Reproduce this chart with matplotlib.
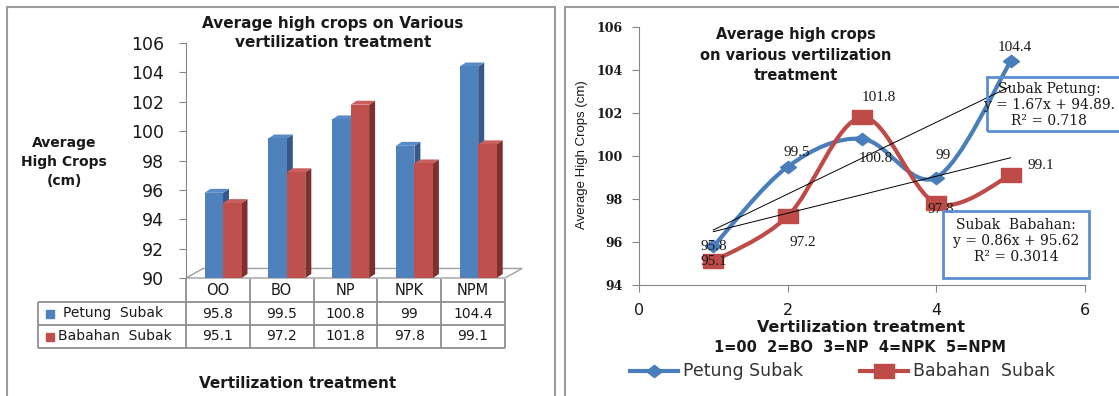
import numpy as np
import matplotlib
matplotlib.use("Agg")
import matplotlib.pyplot as plt
from matplotlib.patches import Polygon, Rectangle, PathPatch
from matplotlib.path import Path
from matplotlib.lines import Line2D

# ---------------- data ----------------
categories = ["OO", "BO", "NP", "NPK", "NPM"]
petung = [95.8, 99.5, 100.8, 99, 104.4]
babahan = [95.1, 97.2, 101.8, 97.8, 99.1]
treatment_codes = [1, 2, 3, 4, 5]
table_row_names = ["Petung  Subak", "Babahan  Subak"]
legend_names = ["Petung Subak", "Babahan  Subak"]
bar_yticks = [90, 92, 94, 96, 98, 100, 102, 104, 106]
line_yticks = [94, 96, 98, 100, 102, 104, 106]
line_xticks = [0, 2, 4, 6]
eq_petung = "Subak Petung:\ny = 1.67x + 94.89.\nR² = 0.718"
eq_babahan = "Subak  Babahan:\ny = 0.86x + 95.62\nR² = 0.3014"

# ---------------- style ----------------
BLUE = "#4F81BD"
BLUE_SIDE = "#36598A"
BLUE_TOP = "#5A8BC7"
RED = "#C0504D"
RED_SIDE = "#7E302E"
RED_TOP = "#C9605D"
LINE_BLUE = "#4A7EBB"
LINE_RED = "#BE4B48"
AXIS_GRAY = "#868686"
TXT = "#1a1a1a"

W, H = 1119, 396


def fx(px):
    return px / W


def fy(py):
    return 1 - py / H


fig = plt.figure(figsize=(W / 100, H / 100), dpi=100)

# panel borders
fig.add_artist(Rectangle((fx(7), fy(420)), fx(555 - 7), (420 - 7) / H,
                         transform=fig.transFigure, fill=False, ec="#9c9c9c", lw=1.5))
fig.add_artist(Rectangle((fx(565), fy(420)), fx(1140 - 565), (420 - 7) / H,
                         transform=fig.transFigure, fill=False, ec="#9c9c9c", lw=1.5))

# ================= LEFT: 3D-look clustered bar chart =================
axL = fig.add_axes([fx(186), fy(278), fx(505 - 186), (278 - 43) / H])
axL.set_xlim(0, 5)
axL.set_ylim(90, 106)
centers = np.arange(len(categories)) + 0.5
bw = 0.29
dx, dy = 0.094, 0.27
blue_left = centers - 0.21
red_left = centers + 0.08

# floor
floor_dx, floor_dy = 0.27, 0.65
axL.add_patch(Polygon([(0, 90), (5, 90), (5 + floor_dx, 90 + floor_dy), (floor_dx, 90 + floor_dy)],
                      closed=True, fc="white", ec="#a0a0a0", lw=1, clip_on=False, zorder=1))


def bar3d(ax, lefts, vals, front, side, topc, z):
    ax.bar(lefts, np.array(vals) - 90, bottom=90, width=bw, align="edge",
           color=front, zorder=z + 1, clip_on=False)
    for l, v in zip(lefts, vals):
        r = l + bw
        ax.add_patch(Polygon([(r, 90), (r + dx, 90 + dy), (r + dx, v + dy), (r, v)],
                             closed=True, fc=side, ec="none", zorder=z, clip_on=False))
        ax.add_patch(Polygon([(l, v), (l + dx, v + dy), (r + dx, v + dy), (r, v)],
                             closed=True, fc=topc, ec="none", zorder=z, clip_on=False))


bar3d(axL, blue_left, petung, BLUE, BLUE_SIDE, BLUE_TOP, 2)
bar3d(axL, red_left, babahan, RED, RED_SIDE, RED_TOP, 4)

for s in ["top", "right", "bottom"]:
    axL.spines[s].set_visible(False)
axL.spines["left"].set_color(AXIS_GRAY)
axL.set_xticks([])
axL.set_yticks(bar_yticks)
axL.tick_params(axis="y", direction="out", length=5, color=AXIS_GRAY,
                labelsize=12.5, pad=11, labelcolor=TXT)
axL.patch.set_alpha(0)

fig.text(fx(333), fy(33), "Average high crops on Various\nvertilization treatment",
         ha="center", va="center", fontsize=11, fontweight="bold", linespacing=1.4, color=TXT)
fig.text(fx(64), fy(162), "Average\nHigh Crops\n(cm)", ha="center", va="center",
         fontsize=10, fontweight="bold", linespacing=1.45, color=TXT)
fig.text(fx(298), fy(383), "Vertilization treatment", ha="center", va="center",
         fontsize=11, fontweight="bold", color=TXT)

# data table under the bar chart
axT = fig.add_axes([fx(186), fy(348), fx(505 - 186), (348 - 279) / H])
axT.set_xlim(0, 5)
axT.set_ylim(0, 3)
axT.axis("off")
x_tab_left = -(186 - 38) / 63.8
GRID = "#8f8f8f"
axT.hlines([0, 1, 2], x_tab_left, 5, color=GRID, lw=1.3, clip_on=False)
axT.vlines(np.arange(6), 0, 3, color=GRID, lw=1.3, clip_on=False)
axT.vlines([x_tab_left], 0, 2, color=GRID, lw=1.3, clip_on=False)
for c, cat, p, b in zip(centers, categories, petung, babahan):
    axT.text(c, 2.5, cat, ha="center", va="center", fontsize=10.5, color=TXT)
    axT.text(c, 1.5, f"{p:g}", ha="center", va="center", fontsize=10, color=TXT)
    axT.text(c, 0.5, f"{b:g}", ha="center", va="center", fontsize=10, color=TXT)
sq_x = -(186 - 50) / 63.8
axT.plot([sq_x], [1.5], marker="s", ms=6, color=BLUE, ls="none", clip_on=False)
axT.plot([sq_x], [0.5], marker="s", ms=6, color=RED, ls="none", clip_on=False)
axT.text(-(186 - 63) / 63.8, 1.5, table_row_names[0], ha="left", va="center", fontsize=10, color=TXT)
axT.text(-(186 - 58) / 63.8, 0.5, table_row_names[1], ha="left", va="center", fontsize=10, color=TXT)

# ================= RIGHT: smoothed line chart =================
axR = fig.add_axes([fx(639), fy(285), fx(1085 - 639), (285 - 27) / H])
axR.set_xlim(0, 6)
axR.set_ylim(94, 106)
for s in ["top", "right"]:
    axR.spines[s].set_visible(False)
axR.spines["left"].set_color(AXIS_GRAY)
axR.spines["bottom"].set_color(AXIS_GRAY)
axR.set_xticks(line_xticks)
axR.set_yticks(line_yticks)
axR.tick_params(axis="x", direction="out", length=5, color=AXIS_GRAY, labelsize=11.5,
                pad=8, labelcolor=TXT)
axR.tick_params(axis="y", direction="out", length=5, color=AXIS_GRAY, pad=7, labelcolor=TXT)
for lab in axR.get_yticklabels():
    lab.set_fontfamily("DejaVu Serif")
    lab.set_fontweight("bold")
    lab.set_fontsize(9)
axR.patch.set_alpha(0)


def smooth_path(xs, ys):
    pts = np.column_stack([xs, ys]).astype(float)
    n = len(pts)
    verts = [pts[0]]
    codes = [Path.MOVETO]
    for i in range(n - 1):
        p0 = pts[i - 1] if i > 0 else pts[i]
        p1 = pts[i]
        p2 = pts[i + 1]
        p3 = pts[i + 2] if i + 2 < n else pts[i + 1]
        c1 = p1 + (p2 - p0) / 6.0
        c2 = p2 - (p3 - p1) / 6.0
        verts += [c1, c2, p2]
        codes += [Path.CURVE4] * 3
    return Path(verts, codes)


diamond = [(-1.3, 0), (0, 1), (1.3, 0), (0, -1), (-1.3, 0)]
wide_sq = [(-1.45, -1), (1.45, -1), (1.45, 1), (-1.45, 1), (-1.45, -1)]

axR.add_patch(PathPatch(smooth_path(treatment_codes, petung), fill=False, ec=LINE_BLUE,
                        lw=3, capstyle="round", joinstyle="round", zorder=3))
axR.plot(treatment_codes, petung, ls="none", marker=diamond, ms=11.5, color=LINE_BLUE, zorder=4)
axR.add_patch(PathPatch(smooth_path(treatment_codes, babahan), fill=False, ec=LINE_RED,
                        lw=3, capstyle="round", joinstyle="round", zorder=3.5))
axR.plot(treatment_codes, babahan, ls="none", marker=wide_sq, ms=14, color=LINE_RED, zorder=4.5)

# linear trendlines
xs_end = [treatment_codes[0], treatment_codes[-1]]
for series in (petung, babahan):
    fit = np.polyfit(treatment_codes, series, 1)
    axR.plot(xs_end, np.polyval(fit, xs_end), color="black", lw=0.7, zorder=5)

# data labels
off_p = [(0, 0), (6.5, 10), (10, -14.5), (5, 16), (3, 10)]
off_b = [(0, 0), (11, -19), (12, 14), (3.5, -4.5), (22, 7)]
for xv, yv, o in zip(treatment_codes, petung, off_p):
    axR.annotate(f"{yv:g}", (xv, yv), xytext=o, textcoords="offset points", ha="center",
                 va="center", fontsize=11, family="Liberation Serif", color=TXT, zorder=6)
for xv, yv, o in zip(treatment_codes, babahan, off_b):
    axR.annotate(f"{yv:g}", (xv, yv), xytext=o, textcoords="offset points", ha="center",
                 va="center", fontsize=11, family="Liberation Serif", color=TXT, zorder=6)

fig.text(fx(796), fy(55), "Average high crops\non various vertilization\ntreatment",
         ha="center", va="center", fontsize=10.5, fontweight="bold", linespacing=1.5, color=TXT)
fig.text(fx(582), fy(155), "Average High Crops (cm)", rotation=90, ha="center", va="center",
         fontsize=9.5, family="Liberation Sans", color=TXT)
fig.text(fx(861), fy(327), "Vertilization treatment", ha="center", va="center",
         fontsize=11.5, fontweight="bold", color=TXT)
fig.text(fx(860), fy(347), "1=00  2=BO  3=NP  4=NPK  5=NPM", ha="center", va="center",
         fontsize=10.5, fontweight="bold", color=TXT)

# legend
fig.add_artist(Line2D([fx(630), fx(654), fx(678)], [fy(371)] * 3, transform=fig.transFigure,
                      color=LINE_BLUE, lw=3, marker=diamond, ms=11.5, markevery=[1]))
fig.text(fx(683), fy(371), legend_names[0], ha="left", va="center", fontsize=12.5, color="#333333")
fig.add_artist(Line2D([fx(860), fx(884), fx(908)], [fy(371)] * 3, transform=fig.transFigure,
                      color=LINE_RED, lw=3, marker=wide_sq, ms=14, markevery=[1]))
fig.text(fx(913), fy(371), legend_names[1], ha="left", va="center", fontsize=12.5, color="#333333")

# trendline equation boxes
fig.add_artist(Rectangle((fx(987), fy(131)), fx(1125 - 987), (131 - 77) / H,
                         transform=fig.transFigure, fill=False, ec="#5B8FCF", lw=2))
fig.text(fx(1049), fy(105), eq_petung, ha="center", va="center", fontsize=10,
         family="DejaVu Serif", linespacing=1.15, color=TXT)
fig.add_artist(Rectangle((fx(943), fy(278)), fx(1089 - 943), (278 - 211) / H,
                         transform=fig.transFigure, fill=False, ec="#5B8FCF", lw=2))
fig.text(fx(1016), fy(241), eq_babahan, ha="center", va="center", fontsize=10,
         family="DejaVu Serif", linespacing=1.2, color=TXT)

fig.savefig("out.png", dpi=100)
